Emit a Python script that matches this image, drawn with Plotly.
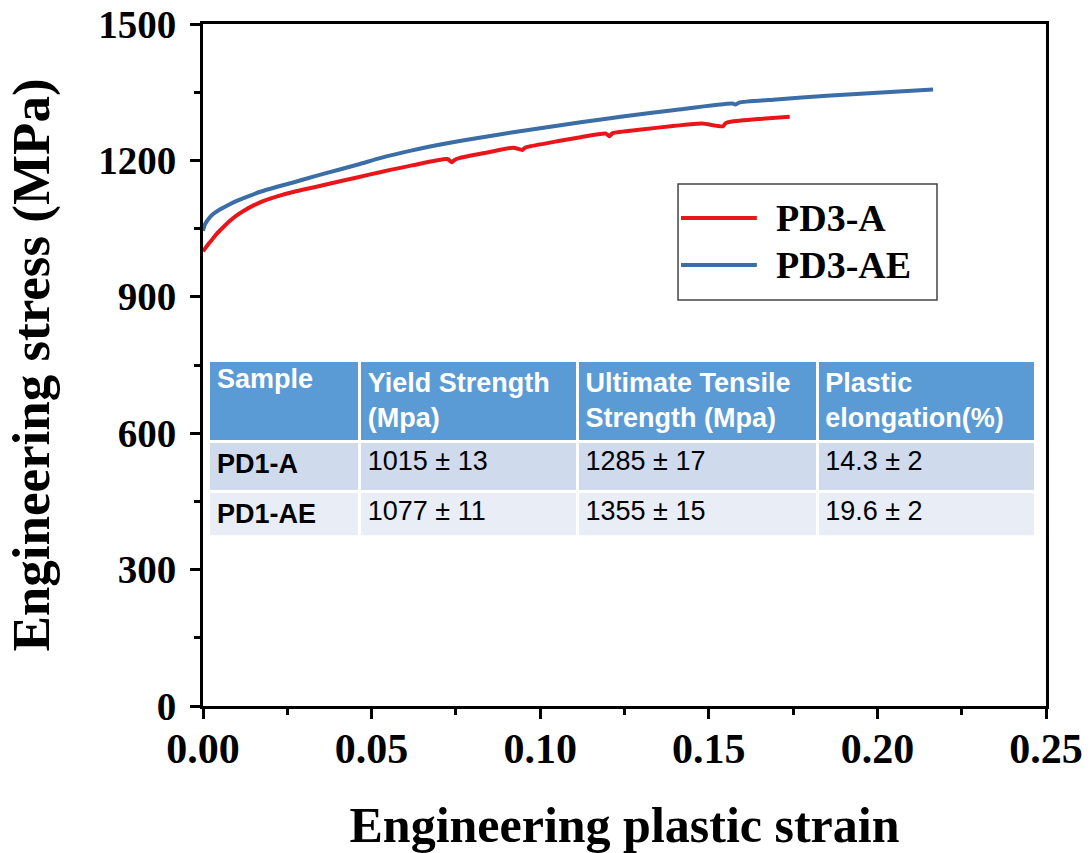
import plotly.graph_objects as go

# ---- data ----
strain_a = [0, 0.001, 0.0025, 0.004, 0.006, 0.008, 0.010, 0.0125, 0.015, 0.018, 0.022,
            0.027, 0.033, 0.040, 0.046, 0.0525, 0.062,
            0.0725, 0.0738, 0.0746, 0.076, 0.084, 0.092, 0.0947, 0.0955, 0.097, 0.105,
            0.112, 0.1195, 0.1205, 0.1215, 0.13, 0.14, 0.148, 0.1542, 0.155, 0.1565,
            0.165, 0.174]
stress_a = [1000, 1010, 1024, 1038, 1053, 1067, 1079, 1091, 1101, 1111, 1121,
            1131, 1141, 1153, 1163, 1174, 1189,
            1203, 1196, 1201, 1205, 1217, 1228, 1223, 1228, 1231, 1242,
            1251, 1259, 1253, 1260, 1268, 1276, 1281, 1275, 1282, 1285,
            1291, 1296]

strain_ae = [0, 0.0005, 0.0015, 0.003, 0.005, 0.0075, 0.010, 0.013, 0.017, 0.022,
             0.027, 0.033, 0.040, 0.046, 0.0525, 0.062, 0.072,
             0.082, 0.092, 0.102, 0.112, 0.125, 0.14, 0.157, 0.158, 0.159, 0.17,
             0.185, 0.2, 0.2165]
stress_ae = [1045, 1058, 1070, 1082, 1092, 1102, 1111, 1120, 1131, 1142,
             1152, 1165, 1179, 1191, 1205, 1222, 1237,
             1250, 1262, 1273, 1284, 1297, 1311, 1325, 1323, 1327, 1334,
             1342, 1349, 1356]

series_names = ["PD3-A", "PD3-AE"]
series_colors = ["#E8161B", "#3B6DA6"]

x_ticks = [0.00, 0.05, 0.10, 0.15, 0.20, 0.25]
y_ticks = [0, 300, 600, 900, 1200, 1500]

table_header = ["Sample", "Yield Strength<br>(Mpa)", "Ultimate Tensile<br>Strength (Mpa)",
                "Plastic<br>elongation(%)"]
table_samples = ["<b>PD1-A</b>", "<b>PD1-AE</b>"]
table_yield = ["1015 ± 13", "1077 ± 11"]
table_uts = ["1285 ± 17", "1355 ± 15"]
table_elong = ["14.3 ± 2", "19.6 ± 2"]

SERIF = "Liberation Serif, Times New Roman, serif"
SANS = "Liberation Sans, Arial, sans-serif"

fig = go.Figure()

for sx, sy, name, color in [(strain_a, stress_a, series_names[0], series_colors[0]),
                            (strain_ae, stress_ae, series_names[1], series_colors[1])]:
    fig.add_trace(go.Scatter(x=sx, y=sy, mode="lines", name=name,
                             line=dict(color=color, width=4, shape="spline", smoothing=0.6),
                             showlegend=False))

fig.add_trace(go.Table(
    domain=dict(x=[0.0071, 0.989], y=[0.249, 0.507]),
    columnwidth=[151, 218, 240, 219],
    header=dict(values=table_header, fill_color="#5B9BD5",
                line=dict(color="white", width=3), align="left", height=76,
                font=dict(family=SANS, size=27, color="white", weight="bold")),
    cells=dict(values=[table_samples, table_yield, table_uts, table_elong],
               fill_color=[["#CFDAEC", "#E9EDF6"]] * 4,
               line=dict(color="white", width=3), align="left", height=50,
               font=dict(family=SANS, size=27, color="black")),
))

axis_common = dict(showline=True, linewidth=3, linecolor="black", mirror=True,
                   ticks="outside", ticklen=10, tickwidth=3, tickcolor="black",
                   showgrid=False, zeroline=False, automargin=False)

fig.update_xaxes(range=[0, 0.25], tickvals=x_ticks, tickformat=".2f",
                 minor=dict(ticks="outside", ticklen=6, tickwidth=3, tickcolor="black",
                            dtick=0.025, showgrid=False),
                 tickfont=dict(family=SERIF, size=42, color="black", weight="bold"),
                 ticklabelstandoff=-6,
                 title=dict(text="Engineering plastic strain", standoff=40,
                            font=dict(family=SERIF, size=50, color="black", weight="bold")),
                 **axis_common)
fig.update_yaxes(range=[0, 1500], tickvals=y_ticks,
                 minor=dict(ticks="outside", ticklen=6, tickwidth=3, tickcolor="black",
                            dtick=150, showgrid=False),
                 tickfont=dict(family=SERIF, size=39, color="black", weight="bold"),
                 ticklabelstandoff=6,
                 title=dict(text="Engineering stress (MPa)", standoff=32,
                            font=dict(family=SERIF, size=53, color="black", weight="bold")),
                 **axis_common)

# manual legend box
shapes = [dict(type="rect", xref="paper", yref="paper", x0=0.5635, x1=0.8707,
               y0=0.5953, y1=0.7654, line=dict(color="#444444", width=1.5),
               fillcolor="white", layer="below")]
annotations = []
for i, (name, color) in enumerate(zip(series_names, series_colors)):
    yy = 0.7155 - i * 0.0689
    shapes.append(dict(type="line", xref="paper", yref="paper", x0=0.567, x1=0.657,
                       y0=yy, y1=yy, line=dict(color=color, width=4)))
    annotations.append(dict(xref="paper", yref="paper", x=0.677, y=yy, text=name,
                            showarrow=False, xanchor="left", yanchor="middle",
                            font=dict(family=SERIF, size=38, color="black", weight="bold")))

fig.update_layout(width=1091, height=853,
                  margin=dict(l=203, r=45, t=24, b=147, autoexpand=False),
                  paper_bgcolor="white", plot_bgcolor="white",
                  shapes=shapes, annotations=annotations)

fig.write_html("out.html")
